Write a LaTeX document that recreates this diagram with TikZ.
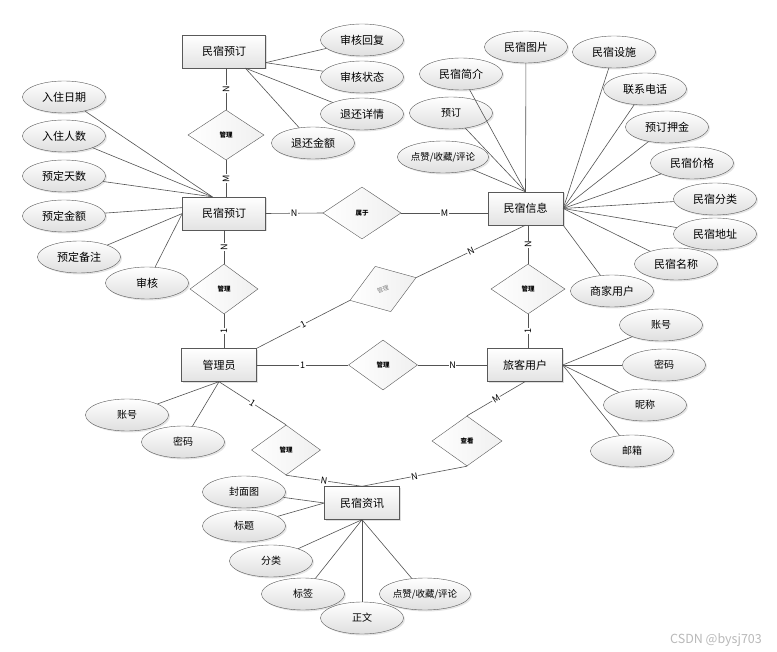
\documentclass[tikz,border=0pt]{standalone}
\usepackage{fontspec}
\setmainfont{Noto Sans CJK SC}
\usepackage{xcolor}
\usepackage{tikz}
\usetikzlibrary{shapes.geometric, shadows}

\tikzset{
  ent/.style={draw=gray!70!black, rectangle, minimum width=75pt, minimum height=33pt,
    inner sep=0pt, top color=white, bottom color=gray!22,
    drop shadow={opacity=0.25, shadow xshift=1.5pt, shadow yshift=-1.5pt},
    font=\fontsize{11}{13}\selectfont},
  attr/.style={draw=gray!70!black, ellipse, minimum width=83pt, minimum height=32pt,
    inner sep=0pt, top color=white, bottom color=gray!25,
    drop shadow={opacity=0.2, shadow xshift=1.5pt, shadow yshift=-1.5pt},
    font=\fontsize{11}{13}\selectfont},
  rel/.style={draw=gray!70!black, diamond, minimum width=74pt, minimum height=50pt,
    inner sep=0pt, left color=white, right color=gray!12,
    font=\fontsize{6.5}{7}\selectfont\bfseries},
  link/.style={draw=gray!65!black, line width=0.6pt},
  card/.style={fill=white, inner sep=0.6pt, font=\fontsize{9}{10}\selectfont},
  smalltext/.style={font=\fontsize{10}{12}\selectfont},
}

\begin{document}
\begin{tikzpicture}[x=1pt, y=-1pt]
  \path[use as bounding box, fill=white] (0,0) rectangle (777,652);

  %% entities
  \node[ent, minimum width=83pt] (ydtop) at (224,51.5) {民宿预订};
  \node[ent, minimum width=83pt] (yd) at (224,213.5) {民宿预订};
  \node[ent] (info) at (525.5,208.5) {民宿信息};
  \node[ent] (admin) at (219,365) {管理员};
  \node[ent] (user) at (525,365) {旅客用户};
  \node[ent] (news) at (362,503) {民宿资讯};

  %% relations
  \node[rel, minimum width=76pt] (r1) at (226,135) {管理};
  \node[rel, minimum width=68pt] (r2) at (224,289) {管理};
  \node[rel, minimum width=78pt, minimum height=52pt] (r3) at (362,213) {属于};
  \node[rel, minimum width=70pt, minimum height=48pt, rotate=19,
    font=\fontsize{6}{7}\selectfont, text=gray] (r4) at (383,289) {管理};
  \node[rel] (r5) at (528,289) {管理};
  \node[rel, minimum width=69pt] (r6) at (383,365) {管理};
  \node[rel, minimum width=69pt] (r7) at (286,450) {管理};
  \node[rel, minimum width=70pt] (r8) at (467,441) {查看};

  %% attributes of the upper booking
  \node[attr] (shhf) at (362,40) {审核回复};
  \node[attr] (shzt) at (362,77) {审核状态};
  \node[attr] (thxq) at (362,114) {退还详情};
  \node[attr] (thje) at (313,143) {退还金额};

  %% attributes of the lower booking
  \node[attr] (rzrq) at (64,97) {入住日期};
  \node[attr] (rzrs) at (64,136) {入住人数};
  \node[attr] (ydts) at (64,176) {预定天数};
  \node[attr] (ydje) at (64,216) {预定金额};
  \node[attr] (ydbz) at (79,257) {预定备注};
  \node[attr] (shen) at (147,283) {审核};

  %% attributes of the homestay
  \node[attr] (mstp) at (526,47) {民宿图片};
  \node[attr] (mssz) at (614,52) {民宿设施};
  \node[attr] (msjj) at (461,74) {民宿简介};
  \node[attr] (lxdh) at (645,89) {联系电话};
  \node[attr, smalltext] (yuding) at (451,113) {预订};
  \node[attr] (ydyj) at (667,127) {预订押金};
  \node[attr, font=\fontsize{9.5}{11}\selectfont] (dzinfo) at (443,157) {点赞/收藏/评论};
  \node[attr] (msjg) at (692,163) {民宿价格};
  \node[attr] (msfl) at (715,199) {民宿分类};
  \node[attr] (msdz) at (715,234) {民宿地址};
  \node[attr] (msmc) at (676,264) {民宿名称};
  \node[attr] (sjyh) at (612,291) {商家用户};

  %% attributes of the guest
  \node[attr, smalltext] (uzh) at (661,325) {账号};
  \node[attr, smalltext] (umm) at (664,365) {密码};
  \node[attr, smalltext] (unc) at (645,405) {昵称};
  \node[attr, smalltext] (uyx) at (632,451) {邮箱};

  %% attributes of the admin
  \node[attr, smalltext] (azh) at (127,415) {账号};
  \node[attr, smalltext] (amm) at (183,442) {密码};

  %% attributes of the news
  \node[attr, smalltext] (fmt) at (244,492) {封面图};
  \node[attr, smalltext] (bt) at (244,526) {标题};
  \node[attr, smalltext] (fl) at (271,561) {分类};
  \node[attr, smalltext] (bq) at (303,594) {标签};
  \node[attr, smalltext] (zw) at (362,618) {正文};
  \node[attr, font=\fontsize{9.5}{11}\selectfont] (dznews) at (425,594) {点赞/收藏/评论};

  %% attribute links
  \foreach \a in {shhf, shzt} \draw[link] (ydtop.-15) -- (\a);
  \foreach \a in {thxq, thje} \draw[link] (ydtop.-38) -- (\a);
  \foreach \a in {rzrq, rzrs, ydts} \draw[link] (yd.125) -- (\a);
  \draw[link] (yd.172) -- (ydje);
  \foreach \a in {ydbz, shen} \draw[link] (yd.west) -- (\a);
  \foreach \a in {mstp, msjj, yuding, dzinfo} \draw[link] (info.north) -- (\a);
  \foreach \a in {mssz, lxdh, ydyj, msjg, msfl, msdz, msmc} \draw[link] (info.east) -- (\a);
  \draw[link] (info.south east) -- (sjyh);
  \foreach \a in {uzh, umm, unc, uyx} \draw[link] (user.east) -- (\a);
  \foreach \a in {azh, amm} \draw[link] (admin.south) -- (\a);
  \foreach \a in {fmt, bt} \draw[link] (news.west) -- (\a);
  \foreach \a in {fl, bq, zw, dznews} \draw[link] (news.south) -- (\a);

  %% relation links with cardinalities
  \draw[link] (r1.north) -- node[card, rotate=90] {N} (r1.north |- ydtop.south);
  \draw[link] (r1.south) -- node[card, rotate=90] {M} (r1.south |- yd.north);
  \draw[link] (r2.north) -- node[card, rotate=90] {N} (r2.north |- yd.south);
  \draw[link] (r2.south) -- node[card, rotate=90] {1} (r2.south |- admin.north);
  \draw[link] (yd.east) -- node[card] {N} (r3.west);
  \draw[link] (r3.east) -- node[card] {M} (r3.east -| info.west);
  \draw[link] (admin.north east) -- node[card, sloped] {1} (r4.west);
  \draw[link] (r4.east) -- node[card, sloped] {N} (info.south);
  \draw[link] (r5.north) -- node[card, rotate=90] {N} (r5.north |- info.south);
  \draw[link] (r5.south) -- node[card, rotate=90] {1} (r5.south |- user.north);
  \draw[link] (admin.east) -- node[card] {1} (r6.west);
  \draw[link] (r6.east) -- node[card] {N} (user.west);
  \draw[link] (admin.south) -- node[card, sloped] {1} (r7.north);
  \draw[link] (r7.south) -- node[card, sloped] {N} (news.north);
  \draw[link] (user.south) -- node[card, sloped] {M} (r8.north);
  \draw[link] (r8.south) -- node[card, sloped] {N} (news.north);

  \node[text=gray!55, font=\fontsize{12.5}{14}\selectfont] (mark) at (716,640) {CSDN @bysj703};
\end{tikzpicture}
\end{document}
